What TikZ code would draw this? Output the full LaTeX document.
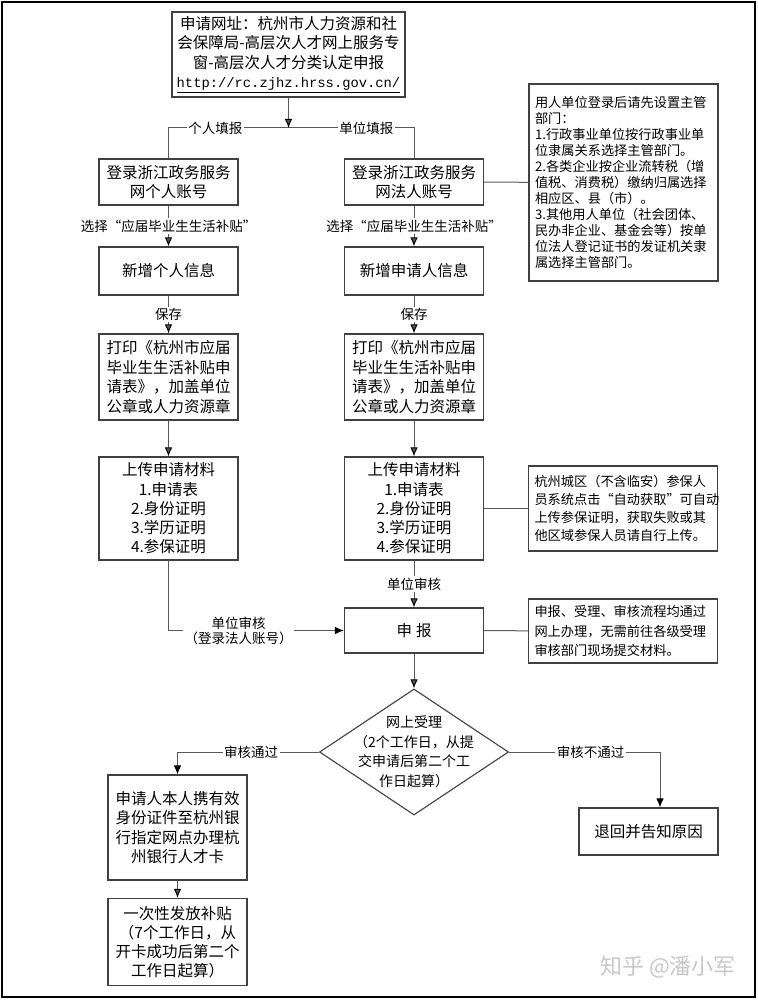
\documentclass[tikz,border=0pt]{standalone}
\usepackage{fontspec}
\setmainfont{Noto Sans CJK SC}
\setmonofont{Liberation Mono}
\usepackage{tikz}
\usetikzlibrary{arrows.meta,shapes.geometric}

\begin{document}
\begin{tikzpicture}[x=1pt,y=-1pt,
	>={Latex[length=9pt,width=7.5pt,color=black]},
	box/.style={draw=black!75,line width=1.1pt,align=center,minimum width=139pt,inner sep=2pt,
		font=\fontsize{15.5}{19.5}\selectfont},
	note/.style={draw=black!75,line width=1.1pt,align=left,inner sep=6pt,text width=177pt,
		font=\fontsize{13.2}{16}\selectfont},
	lbl/.style={fill=white,text=black,inner sep=1.5pt,align=center,
		font=\fontsize{13.5}{15}\selectfont},
	conn/.style={color=black!65,line width=1pt}]
	\useasboundingbox (0,0) rectangle (757,1000);
	\draw[line width=1.5pt] (2,2) rectangle (755,997);
	%
	\node[box,minimum width=233pt,minimum height=85pt] (TOP) at (288.5,54.5) {
		申请网址：杭州市人力资源和社\\会保障局-高层次人才网上服务专\\窗-高层次人才分类认定申报\\
		\underline{\ttfamily\fontsize{13.8}{19.5}\selectfont http://rc.zjhz.hrss.gov.cn/}};
	\coordinate (FK) at (288.5,128);
	%
	\node[box,minimum height=46pt] (A1) at (168.5,182) {登录浙江政务服务\\网个人账号};
	\node[box,minimum height=48pt] (A2) at (168.5,271) {新增个人信息};
	\node[box,minimum height=86pt] (A3) at (168.5,377) {
		打印《杭州市应届\\毕业生生活补贴申\\请表》，加盖单位\\公章或人力资源章};
	\node[box,minimum height=103pt,font=\fontsize{15.5}{19.2}\selectfont] (A4) at (168.5,508.5) {
		上传申请材料\\1.申请表\\2.身份证明\\3.学历证明\\4.参保证明};
	%
	\node[box,minimum height=46pt] (B1) at (414,182) {登录浙江政务服务\\网法人账号};
	\node[box,minimum height=48pt] (B2) at (414,271) {新增申请人信息};
	\node[box,minimum height=86pt] (B3) at (414,377) {
		打印《杭州市应届\\毕业生生活补贴申\\请表》，加盖单位\\公章或人力资源章};
	\node[box,minimum height=103pt,font=\fontsize{15.5}{19.2}\selectfont] (B4) at (414,508.5) {
		上传申请材料\\1.申请表\\2.身份证明\\3.学历证明\\4.参保证明};
	\node[box,minimum height=45pt] (SB) at (414,630.5) {申\hspace{4pt}报};
	%
	\node[diamond,draw=black!75,line width=1.1pt,minimum width=189pt,minimum height=126pt,
		inner sep=0pt] (DM) at (414,752) {};
	\node[align=center,font=\fontsize{14}{19.5}\selectfont] (DMT) at (DM) {
		网上受理\\（2个工作日，从提\\交申请后第二个工\\作日起算）};
	%
	\node[box,minimum height=105pt] (PS) at (177.5,827.5) {
		申请人本人携有效\\身份证件至杭州银\\行指定网点办理杭\\州银行人才卡};
	\node[box,minimum height=87pt,font=\fontsize{15.5}{19}\selectfont] (FB) at (177.5,942) {
		一次性发放补贴\\（7个工作日，从\\开卡成功后第二个\\工作日起算）};
	\node[box,minimum height=47pt] (RJ) at (648.5,831.5) {退回并告知原因};
	%
	\node[note,minimum height=197pt] (N1) at (623.5,182.5) {
		用人单位登录后请先设置主管\\部门：\\1.行政事业单位按行政事业单\\位隶属关系选择主管部门。\\
		2.各类企业按企业流转税（增\\值税、消费税）缴纳归属选择\\相应区、县（市）。\\
		3.其他用人单位（社会团体、\\民办非企业、基金会等）按单\\位法人登记证书的发证机关隶\\
		属选择主管部门。};
	\node[note,minimum height=85pt,font=\fontsize{13.2}{18}\selectfont] (N2) at (623,508.5) {
		杭州城区（不含临安）参保人\\员系统点击“自动获取”可自动\\上传参保证明，获取失败或其\\他区域参保人员请自行上传。};
	\node[note,minimum height=64pt,font=\fontsize{13.2}{19.3}\selectfont] (N3) at (623,631) {
		申报、受理、审核流程均通过\\网上办理，无需前往各级受理\\审核部门现场提交材料。};
	%
	\node[text=black!22,font=\fontsize{22}{22}\selectfont] (WM) at (668,967) {知乎 @潘小军};
	%
	\draw[conn] (FK) -| node[lbl,pos=0.305]{个人填报} (A1.north);
	\draw[conn] (FK) -| node[lbl,pos=0.31]{单位填报} (B1.north);
	\path[->,conn]
		(TOP) edge (FK)
		(A1) edge node[lbl]{选择“应届毕业生生活补贴”} (A2)
		(A2) edge node[lbl]{保存} (A3)
		(A3) edge (A4)
		(B1) edge node[lbl]{选择“应届毕业生生活补贴”} (B2)
		(B2) edge node[lbl]{保存} (B3)
		(B3) edge (B4)
		(B4) edge node[lbl]{单位审核} (SB)
		(SB) edge (DM)
		(PS) edge (FB);
	\draw[->,conn] (A4.south) |- node[lbl,pos=0.70]{单位审核\\（登录法人账号）} (SB.west);
	\draw[->,conn] (DM.west) -| node[lbl,pos=0.24]{审核通过} (PS.north);
	\draw[->,conn] (DM.east) -| node[lbl,pos=0.27]{审核不通过} ([xshift=11.5pt]RJ.north);
	\path[conn]
		(B1) edge (N1)
		(B4) edge (N2)
		(SB) edge (N3);
\end{tikzpicture}
\end{document}
